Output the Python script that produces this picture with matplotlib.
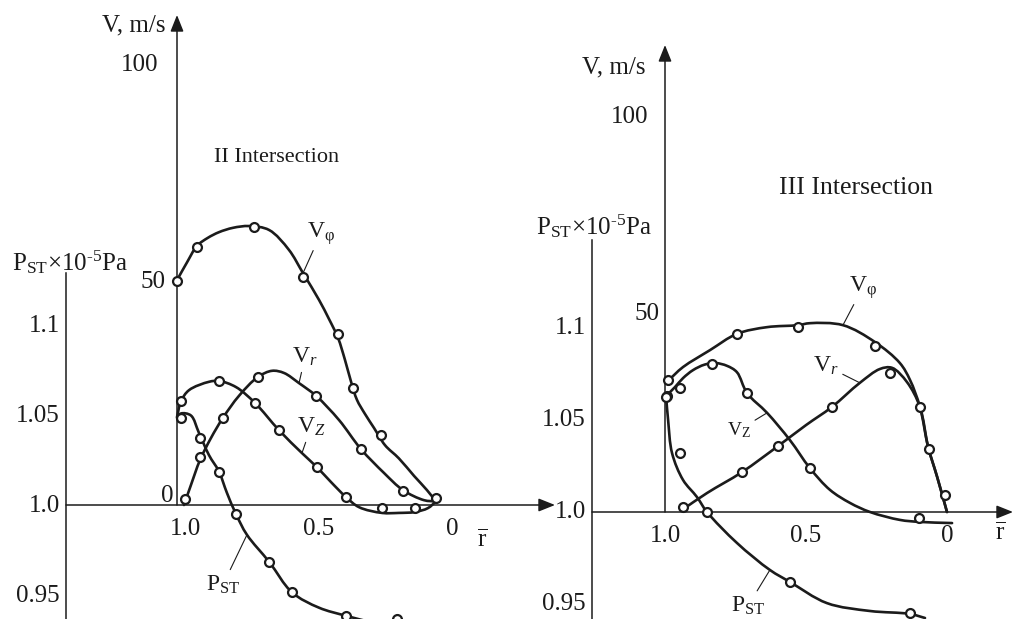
import matplotlib
matplotlib.use("Agg")
import matplotlib.pyplot as plt
from matplotlib.path import Path
from matplotlib.patches import PathPatch
import numpy as np

W, H, DPI = 1014, 619, 100
INK = "#1b1b1b"

plt.rcParams.update(
    {
        "font.family": "Liberation Serif",
        "mathtext.fontset": "custom",
        "mathtext.rm": "Liberation Serif",
        "mathtext.it": "Liberation Serif:italic",
        "mathtext.bf": "Liberation Serif:bold",
    }
)

# ---------------- Section II: velocity profiles (m/s) and static pressure
s2_phi_r = [1.0, 0.962, 0.925, 0.885, 0.843, 0.790, 0.730, 0.655, 0.581, 0.528,
            0.468, 0.431, 0.397, 0.371, 0.348, 0.326, 0.296, 0.262, 0.221, 0.169,
            0.112, 0.064, 0.030]
s2_phi_v = [51.1, 55.2, 58.9, 60.7, 62.0, 63.0, 63.4, 62.5, 58.0, 52.7,
            46.6, 42.3, 38.0, 33.0, 28.0, 23.9, 20.7, 17.5, 13.6, 10.6,
            6.6, 3.4, 0.8]
s2_phi_pts_r = [1.0, 0.925, 0.712, 0.528, 0.397, 0.341, 0.236, 0.030]
s2_phi_pts_v = [50.9, 58.6, 63.2, 51.8, 38.9, 26.6, 15.9, 1.6]

s2_rad_r = [0.974, 0.948, 0.914, 0.873, 0.828, 0.768, 0.697, 0.644, 0.599, 0.543,
            0.479, 0.393, 0.311, 0.225, 0.154, 0.075, 0.030]
s2_rad_v = [0.0, 4.5, 10.2, 15.2, 19.8, 24.8, 29.1, 30.5, 30.0, 27.7,
            24.8, 19.3, 12.7, 7.3, 3.4, 1.1, 0.8]
s2_rad_pts_r = [0.970, 0.914, 0.828, 0.697, 0.479, 0.311, 0.154]
s2_rad_pts_v = [1.4, 10.9, 19.8, 29.1, 24.8, 12.7, 3.2]

s2_ax_r = [1.0, 0.985, 0.955, 0.880, 0.843, 0.779, 0.708, 0.618, 0.532, 0.476,
           0.423, 0.367, 0.318, 0.232, 0.169, 0.109, 0.060, 0.030]
s2_ax_v = [20.0, 23.6, 26.1, 28.0, 28.2, 26.8, 23.2, 17.0, 11.8, 8.6,
           5.2, 1.8, -0.5, -1.8, -1.8, -1.6, -0.7, 0.8]
s2_ax_pts_r = [0.985, 0.843, 0.708, 0.618, 0.476, 0.367, 0.232, 0.109]
s2_ax_pts_v = [23.6, 28.2, 23.2, 17.0, 8.6, 1.8, -0.7, -0.7]

s2_pst_r = [1.0, 0.985, 0.948, 0.918, 0.880, 0.843, 0.813, 0.779, 0.738, 0.655,
            0.569, 0.468, 0.367, 0.262]
s2_pst_p = [1.049, 1.0514, 1.0503, 1.0407, 1.0282, 1.0192, 1.0073, 0.9955, 0.984, 0.969,
            0.952, 0.9435, 0.939, 0.935]
s2_pst_pts_r = [0.985, 0.914, 0.843, 0.779, 0.655, 0.569, 0.367, 0.176]
s2_pst_pts_p = [1.049, 1.038, 1.019, 0.9955, 0.969, 0.952, 0.939, 0.937]

# ---------------- Section III
s3_phi_r = [1.0, 0.989, 0.936, 0.840, 0.745, 0.638, 0.528, 0.486, 0.369, 0.255,
            0.167, 0.131, 0.096, 0.067, 0.035, 0.0]
s3_phi_v = [33.2, 33.4, 36.7, 41.0, 45.1, 46.8, 47.3, 47.8, 47.3, 43.0,
            37.7, 33.4, 26.6, 16.5, 8.9, 0.0]
s3_phi_pts_r = [0.989, 0.745, 0.528, 0.255, 0.096, 0.064, 0.007]
s3_phi_pts_v = [33.4, 45.1, 46.8, 42.0, 26.6, 15.9, 4.3]

s3_rad_r = [0.940, 0.851, 0.727, 0.599, 0.500, 0.408, 0.309, 0.238, 0.195, 0.142,
            0.096, 0.067, 0.035, 0.0]
s3_rad_v = [0.5, 4.8, 10.1, 16.7, 22.0, 26.6, 32.7, 36.2, 36.5, 32.9,
            26.6, 16.5, 8.9, 0.0]
s3_rad_pts_r = [0.936, 0.727, 0.599, 0.408, 0.202]
s3_rad_pts_v = [1.3, 10.1, 16.7, 26.6, 35.2]

s3_ax_r = [0.993, 0.965, 0.936, 0.901, 0.860, 0.820, 0.780, 0.745, 0.709, 0.638,
           0.557, 0.486, 0.415, 0.344, 0.273, 0.167, 0.099, -0.018]
s3_ax_v = [29.6, 31.6, 33.9, 35.9, 37.3, 37.7, 37.0, 35.4, 30.1, 25.1,
           18.2, 11.1, 5.6, 2.3, 0.0, -2.0, -2.5, -2.8]
s3_ax_pts_r = [0.993, 0.947, 0.833, 0.709, 0.486, 0.099]
s3_ax_pts_v = [29.4, 31.4, 37.5, 30.1, 11.1, -1.5]

s3_pst_r = [0.996, 0.989, 0.975, 0.936, 0.887, 0.851, 0.745, 0.628, 0.557, 0.426,
            0.273, 0.131, 0.078]
s3_pst_p = [1.0625, 1.050, 1.032, 1.0174, 1.0082, 1.0, 0.9832, 0.9685, 0.962, 0.9505,
            0.9462, 0.9446, 0.9424]
s3_pst_pts_r = [0.996, 0.947, 0.851, 0.557, 0.131]
s3_pst_pts_p = [1.0625, 1.032, 1.0, 0.962, 0.9451]

r_ticks = [1.0, 0.5, 0]
p_ticks = [1.1, 1.05, 1.0, 0.95]
p_tick_labels = ["1.1", "1.05", "1.0", "0.95"]

fig = plt.figure(figsize=(W / DPI, H / DPI), dpi=DPI)


def full_axes(x_one, px_r, y_base, px_unit, base):
    """Axes over the whole figure; r=1 sits at pixel x_one, `base` at pixel row y_base."""
    ax = fig.add_axes([0, 0, 1, 1])
    ax.set_xlim(1 + x_one / px_r, 1 - (W - x_one) / px_r)
    ax.set_ylim(base - (H - y_base) / px_unit, base + y_base / px_unit)
    ax.set_axis_off()
    ax.patch.set_visible(False)
    return ax


def smooth_path(x, y, sx, sy):
    # centripetal Catmull-Rom through the read points, as cubic Bezier segments;
    # distances are measured in screen units (sx, sy = pixels per data unit)
    p = np.column_stack([np.asarray(x) * sx, np.asarray(y) * sy]).astype(float)
    ext = np.vstack([2 * p[0] - p[1], p, 2 * p[-1] - p[-2]])
    verts = [p[0]]
    codes = [Path.MOVETO]
    for i in range(1, len(ext) - 2):
        p0, p1, p2, p3 = ext[i - 1], ext[i], ext[i + 1], ext[i + 2]
        d1 = max(np.hypot(*(p1 - p0)) ** 0.5, 1e-6)
        d2 = max(np.hypot(*(p2 - p1)) ** 0.5, 1e-6)
        d3 = max(np.hypot(*(p3 - p2)) ** 0.5, 1e-6)
        b1 = (d1 * d1 * p2 - d2 * d2 * p0 + (2 * d1 * d1 + 3 * d1 * d2 + d2 * d2) * p1) / (
            3 * d1 * (d1 + d2))
        b2 = (d3 * d3 * p1 - d2 * d2 * p3 + (2 * d3 * d3 + 3 * d3 * d2 + d2 * d2) * p2) / (
            3 * d3 * (d3 + d2))
        verts += [b1, b2, p2]
        codes += [Path.CURVE4] * 3
    verts = np.array(verts) / np.array([sx, sy])
    return Path(verts, codes)


def curve(ax, r, v, pr, pv, sx, sy):
    ax.add_patch(PathPatch(smooth_path(r, v, sx, sy), fill=False, edgecolor=INK, lw=1.9,
                           capstyle="round", joinstyle="round", zorder=3))
    ax.plot(pr, pv, "o", ms=6.4, mfc="white", mec=INK, mew=1.6, zorder=4)


def arrow(ax, start, end):
    ax.annotate(
        "", xy=end, xytext=start,
        arrowprops=dict(arrowstyle="-|>,head_length=0.5,head_width=0.2", mutation_scale=20,
                        lw=1.1, color=INK, shrinkA=0, shrinkB=0),
    )


def tag(ax, text, xy, offset, size=16):
    ax.annotate(
        text, xy=xy, xytext=offset, textcoords="offset pixels", ha="center", va="center",
        fontsize=size, color=INK,
        arrowprops=dict(arrowstyle="-", lw=0.8, color=INK, shrinkA=1, shrinkB=0),
    )


def panel(cfg):
    x_one, px_r = cfg["x_one"], cfg["px_r"]
    av = full_axes(x_one, px_r, cfg["y_zero"], cfg["px_v"], 0.0)
    ap = full_axes(x_one, px_r, cfg["y_p1"], cfg["px_p"], 1.0)

    def r_at(px):
        return 1 - (px - x_one) / px_r

    # V axis, r axis and the pressure scale
    arrow(av, (1.0, 0.0), (1.0, (cfg["y_zero"] - cfg["v_top"]) / cfg["px_v"]))
    arrow(av, (r_at(cfg["p_axis_x"]), 0.0), (r_at(cfg["r_tip"]), 0.0))
    p_top = 1.0 + (cfg["y_p1"] - cfg["p_top"]) / cfg["px_p"]
    ap.plot([r_at(cfg["p_axis_x"])] * 2, [p_top, 0.9], color=INK, lw=1.1)

    for v, off in cfg["v_ticks"]:
        av.annotate(str(v), xy=(1.0, v), xytext=off, textcoords="offset pixels",
                    ha="right", va="center", fontsize=18, color=INK)
    for r in r_ticks:
        av.annotate(f"{r:.1f}" if r else "0", xy=(r, 0.0), xytext=(cfg["r_dx"], -24),
                    textcoords="offset pixels", ha="center", va="center", fontsize=18, color=INK)
    for p, lab in zip(p_ticks, p_tick_labels):
        ap.annotate(lab, xy=(r_at(cfg["p_axis_x"]), p), xytext=(-6, 0), textcoords="offset pixels",
                    ha="right", va="center", fontsize=18, color=INK)

    d = cfg["data"]
    curve(av, *d["phi"], px_r, cfg["px_v"])
    curve(av, *d["rad"], px_r, cfg["px_v"])
    curve(av, *d["ax"], px_r, cfg["px_v"])
    curve(ap, *d["pst"], px_r, cfg["px_p"])

    for key, text, idx, off, size in cfg["tags"]:
        target = ap if key == "pst" else av
        tag(target, text, (d[key][0][idx], d[key][1][idx]), off, size)

    fx = lambda x: x / W
    fy = lambda y: 1 - y / H
    fig.text(fx(cfg["vlab"][0]), fy(cfg["vlab"][1]), "V, m/s", ha="right", va="center",
             fontsize=18, color=INK)
    fig.text(fx(cfg["plab"][0]), fy(cfg["plab"][1]), r"P$_{\mathrm{ST}}$×10$^{\mathrm{‐5}}$Pa",
             ha="left", va="center", fontsize=18, color=INK)
    fig.text(fx(cfg["title"][0]), fy(cfg["title"][1]), cfg["title"][2], ha="center",
             va="center", fontsize=cfg["title"][3], color=INK)
    fig.text(fx(cfg["rbar"][0]), fy(cfg["rbar"][1]), r"$\overline{\mathrm{r}}$", ha="center",
             va="center", fontsize=18, color=INK)


panel(
    dict(
        x_one=177, px_r=267, y_zero=505, px_v=4.4, y_p1=506, px_p=1800,
        v_top=15, r_tip=555, p_axis_x=66, p_top=273,
        v_ticks=[(100, (-19, 0)), (50, (-11, 3)), (0, (-4, 9))], r_dx=8,
        data=dict(
            phi=(s2_phi_r, s2_phi_v, s2_phi_pts_r, s2_phi_pts_v),
            rad=(s2_rad_r, s2_rad_v, s2_rad_pts_r, s2_rad_pts_v),
            ax=(s2_ax_r, s2_ax_v, s2_ax_pts_r, s2_ax_pts_v),
            pst=(s2_pst_r, s2_pst_p, s2_pst_pts_r, s2_pst_pts_p),
        ),
        tags=[
            ("phi", r"V$_{\mathrm{φ}}$", 9, (18, 40), 17),
            ("rad", r"V$_{r}$", 9, (6, 26), 17),
            ("ax", r"V$_{Z}$", 8, (9, 26), 17),
            ("pst", r"P$_{\mathrm{ST}}$", 8, (-24, -50), 17),
        ],
        vlab=(165, 25), plab=(12, 262), title=(277, 157, "II Intersection", 16),
        rbar=(482, 540),
    )
)

panel(
    dict(
        x_one=665, px_r=282, y_zero=512, px_v=3.95, y_p1=512, px_p=1840,
        v_top=45, r_tip=1013, p_axis_x=592, p_top=240,
        v_ticks=[(100, (-17, 0)), (50, (-6, 0))], r_dx=0,
        data=dict(
            phi=(s3_phi_r, s3_phi_v, s3_phi_pts_r, s3_phi_pts_v),
            rad=(s3_rad_r, s3_rad_v, s3_rad_pts_r, s3_rad_pts_v),
            ax=(s3_ax_r, s3_ax_v, s3_ax_pts_r, s3_ax_pts_v),
            pst=(s3_pst_r, s3_pst_p, s3_pst_pts_r, s3_pst_pts_p),
        ),
        tags=[
            ("phi", r"V$_{\mathrm{φ}}$", 8, (20, 38), 17),
            ("rad", r"V$_{r}$", 6, (-34, 17), 17),
            ("ax", r"V$_{\mathrm{Z}}$", 9, (-28, -17), 14),
            ("pst", r"P$_{\mathrm{ST}}$", 7, (-22, -36), 17),
        ],
        vlab=(645, 67), plab=(536, 226), title=(856, 188, "III Intersection", 18.5),
        rbar=(1000, 533),
    )
)

fig.savefig("out.png", dpi=DPI, facecolor="white")
